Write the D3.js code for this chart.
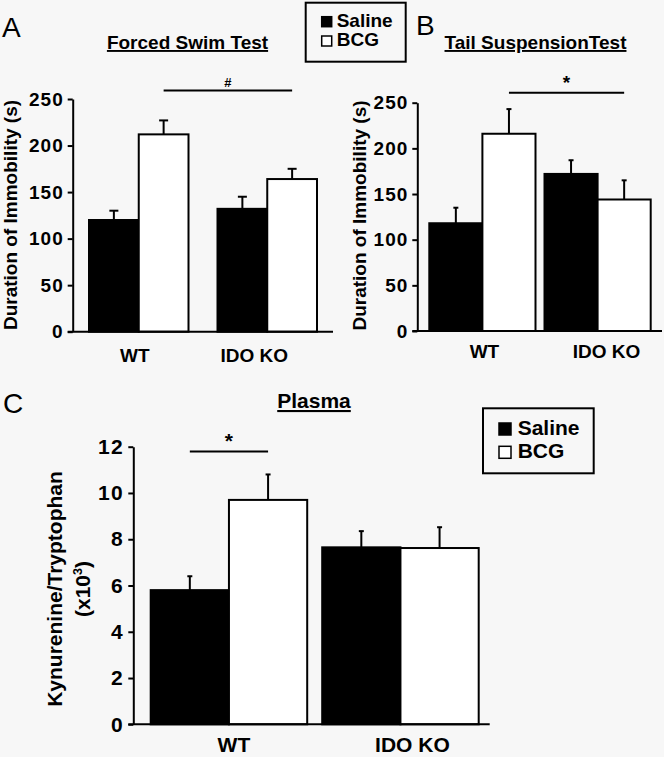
<!DOCTYPE html>
<html>
<head>
    <meta charset="utf-8">
    <title>IDO KO and BCG</title>
    <script src="https://d3js.org/d3.v7.min.js"></script>
    <style>
        body { margin: 0; background: #f7f7f7; }
        svg { display: block; }
    </style>
</head>
<body>
    <script>
        // data
        const groups = ["WT", "IDO KO"];
        const series = ["Saline", "BCG"];

        const fstSaline = [120, 132];
        const fstBcg = [212, 164];
        const fstSalineErr = [10, 13];
        const fstBcgErr = [15, 11];

        const tstSaline = [118, 172];
        const tstBcg = [216, 144];
        const tstSalineErr = [17, 15];
        const tstBcgErr = [27, 21];

        const plasmaSaline = [5.8, 7.65];
        const plasmaBcg = [9.7, 7.62];
        const plasmaSalineErr = [0.6, 0.7];
        const plasmaBcgErr = [1.1, 0.9];

        const immobilityTicks = [0, 50, 100, 150, 200, 250];
        const ratioTicks = [0, 2, 4, 6, 8, 10, 12];

        const font = "'Liberation Sans', Arial, Helvetica, sans-serif";

        const svg = d3.select("body")
            .append("svg")
            .attr("width", 664)
            .attr("height", 757);

        function drawPanel(o) {
            const g = svg.append("g");

            const y = d3.scaleLinear().domain(o.yDomain).range(o.yRange);

            // groups laid out between first and last bar edge
            const w = o.barRange[1] - o.barRange[0];
            const step = (w + o.groupGap) / 2;
            const x0 = d3.scaleBand()
                .domain(groups)
                .range(o.barRange)
                .paddingInner(o.groupGap / step)
                .paddingOuter(0);
            const x1 = d3.scaleBand()
                .domain(series)
                .range([0, x0.bandwidth()]);

            const rows = [];
            groups.forEach((grp, i) => {
                rows.push({ group: grp, series: "Saline", v: o.saline[i], e: o.salineErr[i] });
                rows.push({ group: grp, series: "BCG", v: o.bcg[i], e: o.bcgErr[i] });
            });
            const cx = d => x0(d.group) + x1(d.series) + x1.bandwidth() / 2;

            // error bars (upper only)
            g.selectAll("line.err")
                .data(rows)
                .enter()
                .append("line")
                .attr("class", "err")
                .attr("x1", cx)
                .attr("x2", cx)
                .attr("y1", d => y(d.v))
                .attr("y2", d => y(d.v + d.e))
                .attr("stroke", "#000")
                .attr("stroke-width", 2);
            g.selectAll("line.cap")
                .data(rows)
                .enter()
                .append("line")
                .attr("class", "cap")
                .attr("x1", d => cx(d) - o.capW / 2)
                .attr("x2", d => cx(d) + o.capW / 2)
                .attr("y1", d => y(d.v + d.e))
                .attr("y2", d => y(d.v + d.e))
                .attr("stroke", "#000")
                .attr("stroke-width", 2);

            // bars
            g.selectAll("rect.bar")
                .data(rows)
                .enter()
                .append("rect")
                .attr("class", "bar")
                .attr("x", d => x0(d.group) + x1(d.series))
                .attr("y", d => y(d.v))
                .attr("width", x1.bandwidth())
                .attr("height", d => y(0) - y(d.v))
                .attr("fill", d => d.series === "Saline" ? "#000" : "#fff")
                .attr("stroke", "#000")
                .attr("stroke-width", 2);

            // y axis
            const yAxis = g.append("g")
                .attr("transform", `translate(${o.axisX},0)`)
                .call(d3.axisLeft(y).tickValues(o.ticks).tickSize(5).tickSizeOuter(0).tickPadding(4));
            yAxis.select(".domain").attr("stroke-width", 2);
            yAxis.selectAll(".tick line").attr("stroke-width", 2);
            yAxis.selectAll(".tick text")
                .attr("font-family", font)
                .attr("font-weight", "bold")
                .attr("font-size", o.fontSize)
                .attr("letter-spacing", o.tickSpacing)
                .attr("fill", "#000");

            // x axis line
            g.append("line")
                .attr("x1", o.axisX - 5)
                .attr("x2", o.axisEnd)
                .attr("y1", y(0))
                .attr("y2", y(0))
                .attr("stroke", "#000")
                .attr("stroke-width", 2);

            // category labels
            g.selectAll("text.cat")
                .data(groups)
                .enter()
                .append("text")
                .attr("class", "cat")
                .attr("x", (d, i) => x0(d) + x0.bandwidth() / 2 + o.catShift[i])
                .attr("y", o.catY)
                .attr("text-anchor", "middle")
                .attr("font-family", font)
                .attr("font-weight", "bold")
                .attr("font-size", o.fontSize)
                .text(d => d);

            // y label (one or two lines)
            o.yLabel.forEach((lab, i) => {
                const t = g.append("text")
                    .attr("transform", `translate(${o.yLabelX[i]},${o.yLabelY}) rotate(-90)`)
                    .attr("text-anchor", "middle")
                    .attr("font-family", font)
                    .attr("font-weight", "bold")
                    .attr("font-size", o.fontSize);
                if (lab === "(x10^3)") {
                    t.append("tspan").text("(x10");
                    t.append("tspan").attr("font-size", o.fontSize * 0.6).attr("dy", -8).text("3");
                    t.append("tspan").attr("dy", 8).text(")");
                } else {
                    t.text(lab);
                }
            });

            // title
            g.append("text")
                .attr("x", o.titleX)
                .attr("y", o.titleY)
                .attr("text-anchor", "middle")
                .attr("font-family", font)
                .attr("font-weight", "bold")
                .attr("font-size", o.fontSize)
                .attr("text-decoration", "underline")
                .text(o.title);

            // panel letter
            g.append("text")
                .attr("x", o.letterX)
                .attr("y", o.letterY)
                .attr("font-family", font)
                .attr("font-size", 28)
                .text(o.letter);

            // significance bar
            const s = o.sig;
            const sx1 = cx({ group: s.from[0], series: s.from[1] });
            const sx2 = cx({ group: s.to[0], series: s.to[1] });
            g.append("line")
                .attr("x1", sx1)
                .attr("x2", sx2)
                .attr("y1", y(s.y))
                .attr("y2", y(s.y))
                .attr("stroke", "#000")
                .attr("stroke-width", 2);
            g.append("text")
                .attr("x", (sx1 + sx2) / 2)
                .attr("y", y(s.y) - 4)
                .attr("text-anchor", "middle")
                .attr("font-family", font)
                .attr("font-weight", "bold")
                .attr("font-size", s.size)
                .text(s.label);
        }

        function drawLegend(o) {
            const g = svg.append("g").attr("transform", `translate(${o.x},${o.y})`);
            g.append("rect")
                .attr("width", o.w)
                .attr("height", o.h)
                .attr("fill", "#f7f7f7")
                .attr("stroke", "#000")
                .attr("stroke-width", 2);
            series.forEach((s, i) => {
                g.append("rect")
                    .attr("x", o.sqX)
                    .attr("y", o.rowY[i] - o.sq)
                    .attr("width", o.sq)
                    .attr("height", o.sq)
                    .attr("fill", i === 0 ? "#000" : "#fff")
                    .attr("stroke", "#000")
                    .attr("stroke-width", 1.5);
                g.append("text")
                    .attr("x", o.textX)
                    .attr("y", o.rowY[i])
                    .attr("font-family", font)
                    .attr("font-weight", "bold")
                    .attr("font-size", o.fontSize)
                    .text(s);
            });
        }

        drawPanel({
            yDomain: [0, 250], yRange: [331.7, 99], ticks: immobilityTicks,
            axisX: 72.7, axisEnd: 333, barRange: [89, 317], groupGap: 29,
            saline: fstSaline, bcg: fstBcg, salineErr: fstSalineErr, bcgErr: fstBcgErr,
            capW: 9, fontSize: 19, tickSpacing: 1,
            catShift: [-4, -13], catY: 362,
            yLabel: ["Duration of Immobility (s)"], yLabelX: [17], yLabelY: 215,
            title: "Forced Swim Test", titleX: 187.5, titleY: 49,
            letter: "A", letterX: 2, letterY: 37,
            sig: { from: ["WT", "BCG"], to: ["IDO KO", "BCG"], y: 259, label: "#", size: 13 }
        });

        drawPanel({
            yDomain: [0, 250], yRange: [331, 102.7], ticks: immobilityTicks,
            axisX: 417.3, axisEnd: 662, barRange: [429.3, 650.7], groupGap: 9,
            saline: tstSaline, bcg: tstBcg, salineErr: tstSalineErr, bcgErr: tstBcgErr,
            capW: 5, fontSize: 19, tickSpacing: 1,
            catShift: [2, 9], catY: 358,
            yLabel: ["Duration of Immobility (s)"], yLabelX: [366], yLabelY: 215.5,
            title: "Tail SuspensionTest", titleX: 535.5, titleY: 49,
            letter: "B", letterX: 416, letterY: 35,
            sig: { from: ["WT", "BCG"], to: ["IDO KO", "BCG"], y: 261, label: "*", size: 19 }
        });

        drawPanel({
            yDomain: [0, 12], yRange: [724.3, 446.7], ticks: ratioTicks,
            axisX: 133.3, axisEnd: 489.7, barRange: [150.7, 478.7], groupGap: 15,
            saline: plasmaSaline, bcg: plasmaBcg, salineErr: plasmaSalineErr, bcgErr: plasmaBcgErr,
            capW: 5, fontSize: 21, tickSpacing: 1.5,
            catShift: [5, 12], catY: 752,
            yLabel: ["Kynurenine/Tryptophan", "(x10^3)"], yLabelX: [62, 90], yLabelY: 589,
            title: "Plasma", titleX: 314, titleY: 408,
            letter: "C", letterX: 3, letterY: 413,
            sig: { from: ["WT", "Saline"], to: ["WT", "BCG"], y: 11.79, label: "*", size: 21 }
        });

        drawLegend({ x: 305.7, y: 2.7, w: 100, h: 59, sq: 10, sqX: 16, textX: 31, rowY: [24, 43.3], fontSize: 19 });
        drawLegend({ x: 483, y: 408.3, w: 110.7, h: 65, sq: 12, sqX: 16, textX: 34.7, rowY: [26.7, 50], fontSize: 21 });
    </script>
</body>
</html>
